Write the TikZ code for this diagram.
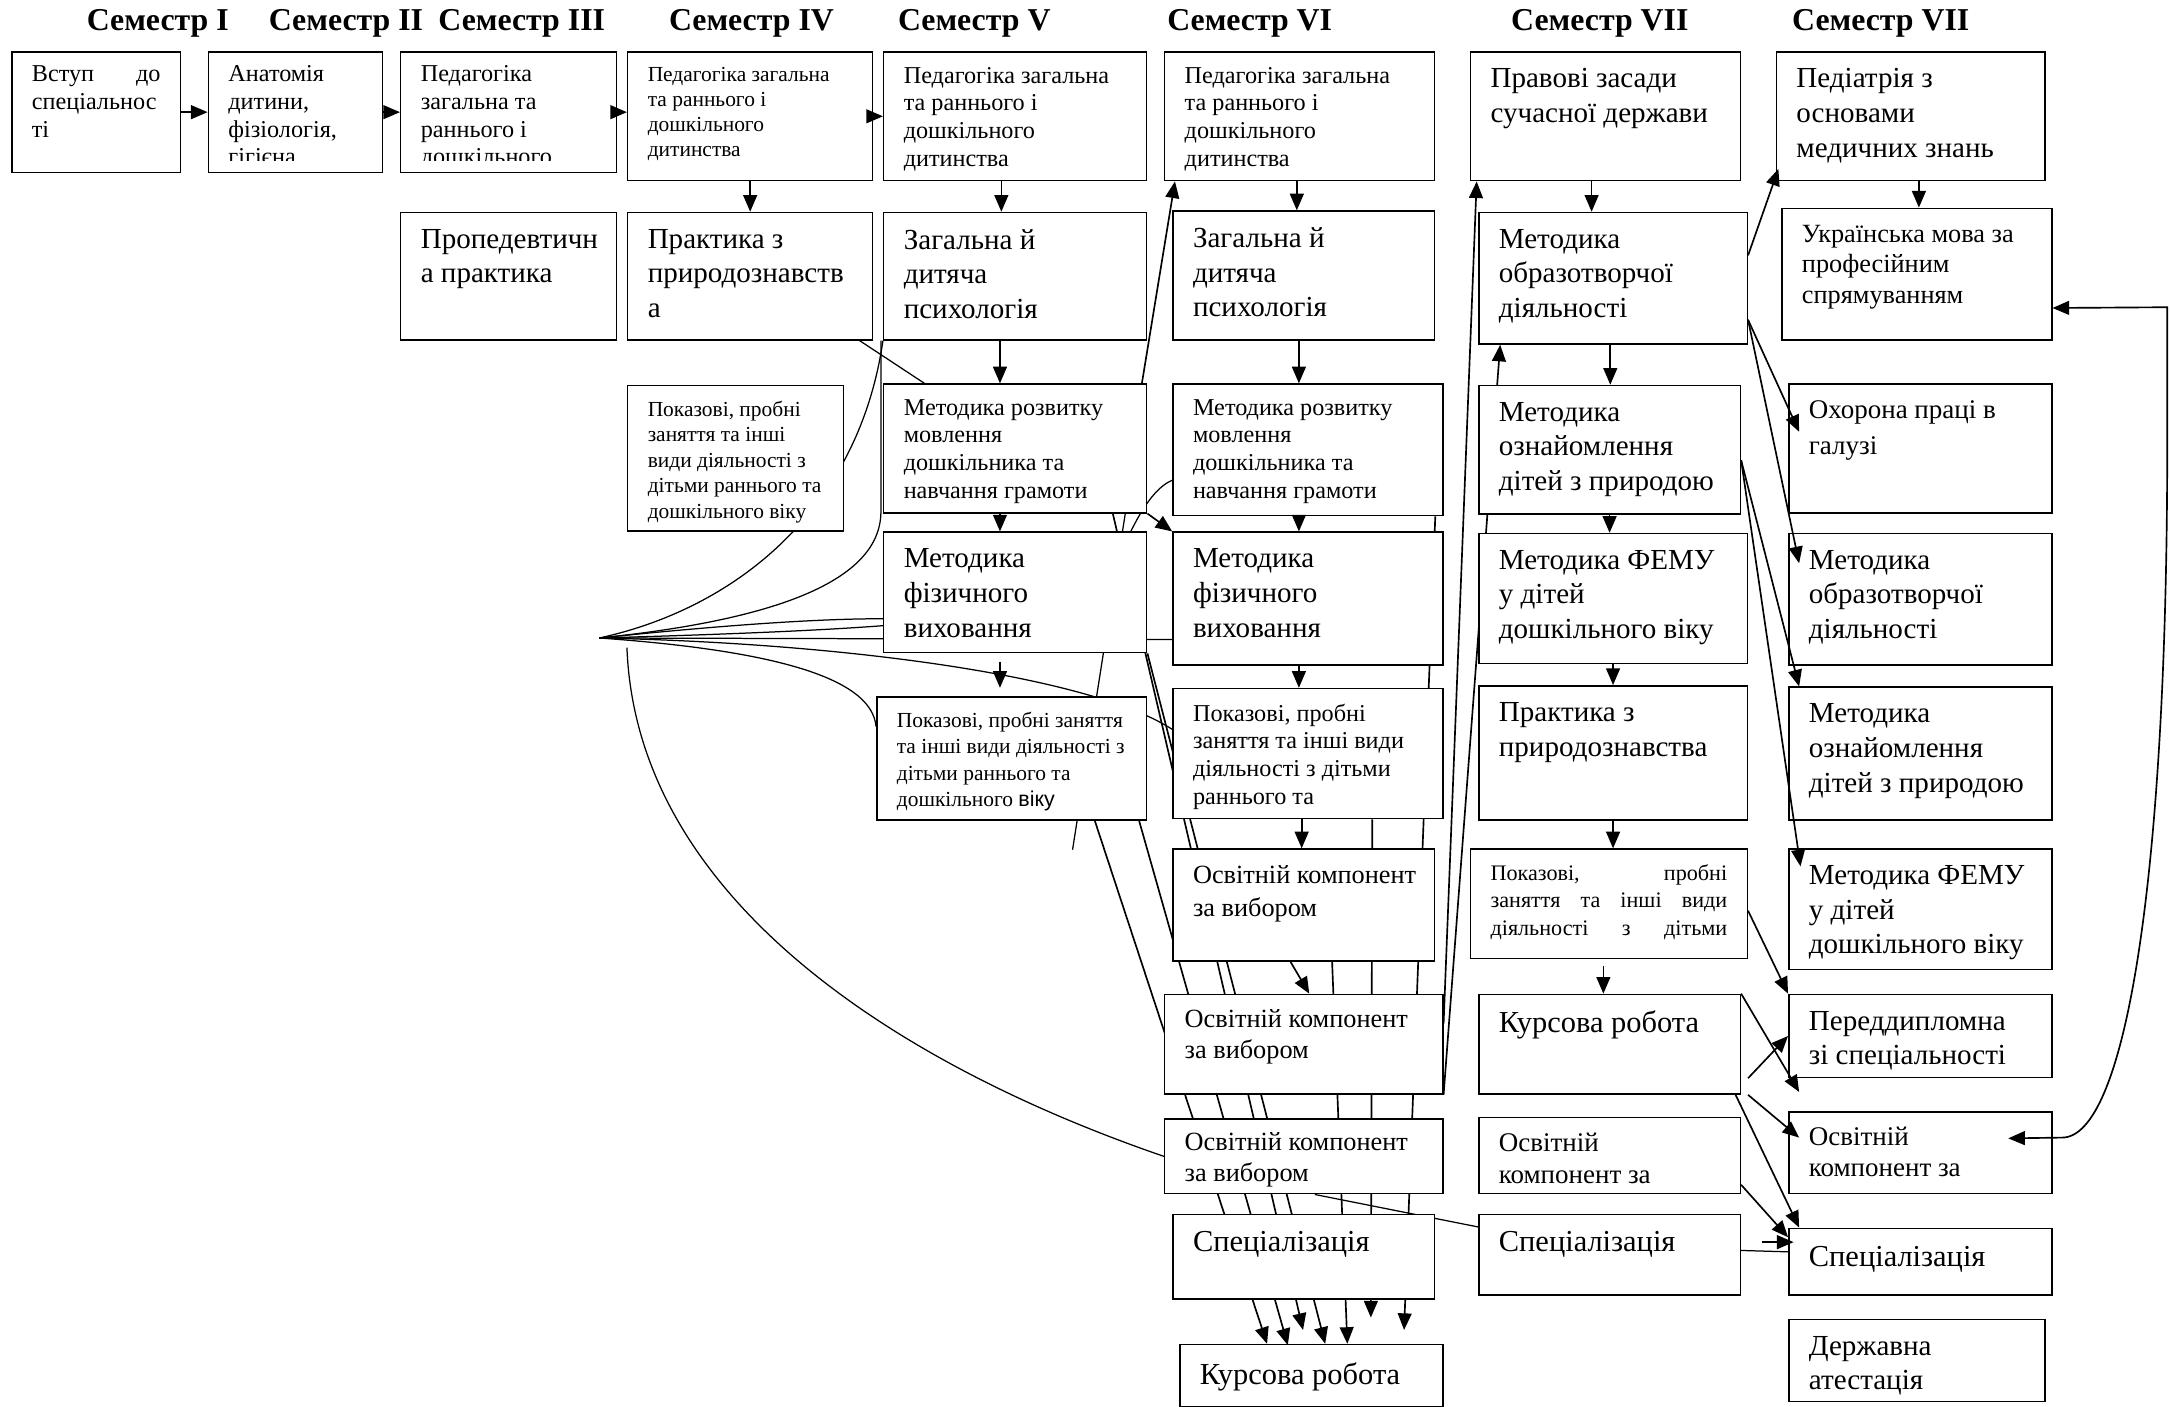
\documentclass[tikz,border=0pt]{standalone}
\usepackage{fontspec}
\setmainfont{Liberation Serif}
\setsansfont{Liberation Sans}
\usetikzlibrary{arrows.meta,calc,backgrounds}

\newcommand\fsz[2]{\fontsize{#1}{#2}\selectfont}
% box: [top gap], name, x, y, width, height, font, lines
\newcommand\course[8][12]{\node[box,minimum width=#5pt,minimum height=#6pt,font=#7] (#2) at (#3,#4)
  {\parbox[t][\dimexpr#6pt-#1pt-#1pt\relax][t]{\dimexpr#5pt-29pt\relax}{\makebox[0pt][l]{\parbox[t]{600pt}{\raggedright #8}}}};}

\tikzset{
  box/.style={draw,fill=white,line width=1.1pt,inner sep=0pt,anchor=north west},
  sem/.style={font=\bfseries\fsz{23}{26}},
  arr/.style={line width=1.2pt,-{Triangle[length=12pt,width=10pt]}},
  link/.style={line width=0.9pt},
}

\begin{document}
\begin{tikzpicture}[x=1pt,y=-1pt]
\useasboundingbox (0,0) rectangle (1568,1016);

\node[sem] (s1) at (114,17) {Семестр I};
\node[sem] (s2) at (250,17) {Семестр II};
\node[sem] (s3) at (377,17) {Семестр III};
\node[sem] (s4) at (543,17) {Семестр IV};
\node[sem] (s5) at (704,17) {Семестр V};
\node[sem] (s6) at (903,17) {Семестр VI};
\node[sem] (s7) at (1156,17) {Семестр VII};
\node[sem] (s8) at (1359,17) {Семестр VII};

% semesters I - IV
\course[10]{vstup}{8}{37}{122}{87}{\fsz{17.5}{20}}{\makebox[93pt][s]{Вступ до}\\спеціальнос\\ті}
\course[10]{anat}{150}{37}{126}{87}{\fsz{17.5}{20}}{Анатомія\\дитини,\\фізіологія,\\гігієна}
\course[10]{pedIII}{289}{37}{156}{87}{\fsz{17.5}{20}}{Педагогіка\\загальна та\\раннього і\\дошкільного}
\course{prop}{289}{153}{156}{92}{\fsz{21}{25}}{Пропедевтичн\\а практика}
\course[11]{pedIV}{453}{37}{177}{93}{\fsz{15.5}{18}}{Педагогіка загальна\\та раннього і\\дошкільного\\дитинства}
\course{praktIV}{453}{153}{177}{92}{\fsz{21}{25}}{Практика з\\природознавств\\а}
\course[11]{pokIV}{453}{278}{156}{105}{\fsz{15.5}{18.5}}{Показові, пробні\\заняття та інші\\види діяльності з\\дітьми раннього та\\дошкільного віку}

% semester V
\course[11]{pedV}{638}{37}{190}{93}{\fsz{17.5}{20}}{Педагогіка загальна\\та раннього і\\дошкільного\\дитинства}
\course{zahV}{638}{153}{190}{92}{\fsz{21}{25}}{Загальна й\\дитяча\\психологія}
\course[11]{mrV}{638}{277}{190}{93}{\fsz{17.5}{20}}{Методика розвитку\\мовлення\\дошкільника та\\навчання грамоти}
\course{mfV}{638}{384}{190}{87}{\fsz{21}{25}}{Методика\\фізичного\\виховання}
\course[11]{pokV}{633}{503}{195}{89}{\fsz{15.5}{19}}{Показові, пробні заняття\\та інші види діяльності з\\дітьми раннього та\\дошкільного {\sffamily віку}}

% semester VI
\course[11]{pedVI}{841}{37}{195}{93}{\fsz{17.5}{20}}{Педагогіка загальна\\та раннього і\\дошкільного\\дитинства}
\course{zahVI}{847}{152}{189}{93}{\fsz{21}{25}}{Загальна й\\дитяча\\психологія}
\course[11]{mrVI}{847}{277}{195}{95}{\fsz{17.5}{20}}{Методика розвитку\\мовлення\\дошкільника та\\навчання грамоти}
\course{mfVI}{847}{384}{195}{96}{\fsz{21}{25}}{Методика\\фізичного\\виховання}
\course[11]{pokVI}{847}{497}{195}{94}{\fsz{17.5}{20}}{Показові, пробні\\заняття та інші види\\діяльності з дітьми\\раннього та}
\course{osv1}{847}{613}{189}{81}{\fsz{19}{24}}{Освітній компонент\\за вибором}
\course[11]{osv2}{841}{718}{201}{72}{\fsz{19}{22}}{Освітній компонент\\за вибором}
\course[10]{osv3}{841}{808}{201}{54}{\fsz{19}{22}}{Освітній компонент\\за вибором}
\course{specVI}{847}{877}{189}{61}{\fsz{22}{25}}{Спеціалізація}
\course[13]{kursVI}{852}{971}{190}{45}{\fsz{22}{25}}{Курсова робота}

% semester VII
\course{prav}{1062}{37}{195}{93}{\fsz{21}{25}}{Правові засади\\сучасної держави}
\course{moVII}{1068}{153}{194}{95}{\fsz{21}{25}}{Методика\\образотворчої\\діяльності}
\course{mozVII}{1068}{278}{189}{93}{\fsz{21}{25}}{Методика\\ознайомлення\\дітей з природою}
\course{femVII}{1068}{385}{194}{94}{\fsz{21}{25}}{Методика ФЕМУ\\у дітей\\дошкільного віку}
\course{praktVII}{1068}{495}{194}{97}{\fsz{21}{25}}{Практика з\\природознавства}
\course[11]{pokVII}{1062}{613}{200}{79}{\fsz{16}{20}}{\makebox[171pt][s]{Показові, пробні}\\\makebox[171pt][s]{заняття та інші види}\\\makebox[171pt][s]{діяльності з дітьми}}
\course{kursVII}{1068}{718}{189}{72}{\fsz{22}{25}}{Курсова робота}
\course[11]{osvVII}{1068}{807}{189}{55}{\fsz{19.5}{23}}{Освітній\\компонент за}
\course{specVII}{1068}{877}{189}{58}{\fsz{22}{25}}{Спеціалізація}

% last column
\course{ped8}{1283}{37}{194}{93}{\fsz{21}{25}}{Педіатрія з\\основами\\медичних знань}
\course{ukr}{1287}{150}{195}{95}{\fsz{19}{22}}{Українська мова за\\професійним\\спрямуванням}
\course{okh}{1292}{277}{190}{93}{\fsz{19.5}{26}}{Охорона праці в\\галузі}
\course{mo8}{1292}{385}{190}{95}{\fsz{21}{25}}{Методика\\образотворчої\\діяльності}
\course{moz8}{1292}{496}{190}{96}{\fsz{21}{25}}{Методика\\ознайомлення\\дітей з природою}
\course{fem8}{1292}{613}{190}{87}{\fsz{21}{25}}{Методика ФЕМУ\\у дітей\\дошкільного віку}
\course{pered}{1292}{718}{190}{60}{\fsz{21}{25}}{Переддипломна\\зі спеціальності}
\course[11]{osv8}{1292}{803}{190}{59}{\fsz{19.5}{22}}{Освітній\\компонент за}
\course[13]{spec8}{1292}{887}{190}{48}{\fsz{22}{25}}{Спеціалізація}
\course{derzh}{1292}{953}{185}{59}{\fsz{21}{25}}{Державна\\атестація}

% cut-off last lines
\fill[white] ($(anat.south west)+(0.8,-8.5)$) rectangle ($(anat.south east)+(-0.8,-0.7)$);
\fill[white] ($(pedIII.south west)+(0.8,-8.5)$) rectangle ($(pedIII.south east)+(-0.8,-0.7)$);

\coordinate (fan) at (433,461);
\coordinate (arcbeg) at (453,468);
\coordinate (b1end) at (775,614);
\coordinate (rr) at (1566,222);

% lines running behind the boxes
\begin{pgfonlayer}{background}
\draw[line width=2pt] (fan) -- ++(22,0);
\draw[link] (fan) .. controls (530,440) and (620,370) .. (zahV.south west);
\draw[link] (fan) .. controls (560,448) and (635,420) .. ($(mrV.south west)+(-1.5,0)$) -- ($(zahV.south west)+(-1.5,0)$);
\draw[link] (fan) .. controls (520,452) and (590,447) .. ($(mfV.south west)+(0,-25)$);
\draw[link] (fan) .. controls (540,458) and (600,455) .. ($(mfV.south west)+(0,-20)$);
\draw[link] (fan) -- ($(mfVI.south west)+(0,-19)$);
\draw[link] (fan) .. controls (620,465) and (790,490) .. ($(pokVI.north west)+(0,30)$);
\draw[link] (fan) .. controls (560,470) and (630,490) .. ($(pokV.north west)+(0,22)$);
\draw[link] (arcbeg) .. controls (460,650) and (650,770) .. (osv3.west);
\draw[link] ($(praktIV.south east)+(-10,0)$) -- ($(mrV.north west)+(30,0)$);
\draw[link] ($(mfV.north east)+(-12,0)$) .. controls (825,368) and (835,352) .. ($(mrVI.west)+(0,22)$);
\draw[link] ($(mrV.south east)+(-16,0)$) -- (b1end);
\draw[arr] ($(mrV.north east)+(-4,0)$) -- ($(pedVI.south west)+(8,0)$);
\draw[arr] ($(pokV.south east)+(-38,0)$) -- ($(kursVI.north)+(-32,0)$);
\draw[arr] ($(pokV.south east)+(-6,0)$) -- ($(kursVI.north)+(-17,1)$);
\draw[arr] ($(mrV.south east)+(-25,0)$) -- ($(kursVI.north)+(-6,-10)$);
\draw[arr] (mfV.south east) -- ($(kursVI.north)+(10,0)$);
\draw[arr] ($(osv1.south)+(20.5,0)$) -- ($(kursVI.north)+(26,0)$);
\draw[arr] ($(pokVI.south)+(46.5,0)$) -- ($(kursVI.north)+(43,-19)$);
\draw[arr] ($(mrVI.south east)+(-6,0)$) -- ($(kursVI.north)+(67,-10)$);
\draw[arr] ($(osv2.east)+(0,-15)$) -- ($(prav.south west)+(5,0)$);
\draw[arr] (osv2.south east) -- ($(moVII.south west)+(16,0)$);
\draw[link] ($(osv3.south)+(8,0)$) -- ($(specVII.west)+(0,-20)$);
\end{pgfonlayer}

% first row
\draw[arr] (vstup) -- (anat);
\draw[arr] (anat) -- (pedIII);
\draw[arr] (pedIII.east) -- (pedIII.east -| pedIV.west);
\draw[arr] (pedIV.east) -- (pedIV.east -| pedV.west);

\draw[arr] (pedIV) -- (praktIV);
\draw[arr] ($(pedV.south)+(-10,0)$) -- ($(pedV.south |- zahV.north)+(-10,0)$);
\draw[arr] ($(zahV.south)+(-11,0)$) -- ($(zahV.south |- mrV.north)+(-11,0)$);
\draw[arr] ($(mrV.south)+(-11,0)$) -- ($(mrV.south |- mfV.north)+(-11,0)$);
\draw[arr] ($(mfV.south)+(-11,6)$) -- ($(mfV.south |- pokV.north)+(-11,-6)$);
\draw[arr] (mrV.south east) -- (mfVI.north west);

\draw[arr] ($(pedVI.south)+(-2,0)$) -- ($(pedVI.south |- zahVI.north)+(-2,0)$);
\draw[arr] ($(zahVI.south)+(-3.5,0)$) -- ($(zahVI.south |- mrVI.north)+(-3.5,0)$);
\draw[arr] ($(mrVI.south)+(-6.5,0)$) -- ($(mrVI.south |- mfVI.north)+(-6.5,0)$);
\draw[arr] ($(mfVI.south)+(-6.5,0)$) -- ($(mfVI.south |- pokVI.north)+(-6.5,0)$);
\draw[arr] ($(pokVI.south)+(-4.5,0)$) -- ($(pokVI.south |- osv1.north)+(-4.5,0)$);
\draw[arr] ($(osv1.south)+(-9.5,0)$) -- ($(osv2.north)+(4,0)$);

\draw[arr] ($(prav.south)+(-10,0)$) -- ($(prav.south |- moVII.north)+(-10,0)$);
\draw[arr] ($(moVII.south)+(-2,0)$) -- ($(moVII.south |- mozVII.north)+(-2,0)$);
\draw[arr] (mozVII.south) -- (mozVII.south |- femVII.north);
\draw[arr] (femVII.south) -- (femVII.south |- praktVII.north);
\draw[arr] (praktVII.south) -- (praktVII.south |- pokVII.north);
\draw[arr] ($(pokVII.south)+(-4,5)$) -- ($(pokVII.south |- kursVII.north)+(-4,0)$);

% into the last column
\draw[arr] ($(moVII.east)+(0,-16.5)$) -- ($(ped8.south west)+(2,-9)$);
\draw[arr] ($(moVII.east)+(0,30)$) -- ($(okh.north west)+(8,35)$);
\draw[arr] ($(moVII.east)+(0,30)$) -- ($(mo8.north west)+(8,22)$);
\draw[arr] ($(mozVII.east)+(0,7.5)$) -- ($(moz8.north west)+(8,0)$);
\draw[arr] ($(mozVII.east)+(0,7.5)$) -- ($(fem8.north west)+(9,13)$);
\draw[arr] ($(pokVII.east)+(0,5)$) -- (pered.north west);
\draw[arr] (kursVII.north east) -- ($(osv8.north west)+(8,-14)$);
\draw[arr] ($(kursVII.south east)+(5,-12)$) -- (pered.west);
\draw[arr] ($(kursVII.south east)+(5,0)$) -- ($(osv8.north west)+(8,19)$);
\draw[arr] ($(kursVII.south east)+(-4,0)$) -- ($(spec8.north west)+(8,0)$);
\draw[arr] ($(osvVII.south east)+(0,-7)$) -- ($(spec8.north west)+(0,7)$);
\draw[link] ($(specVII.east)+(0,-3)$) -- ($(spec8.west)+(0,-7)$);
\draw[arr] ($(specVII.east)+(15,-9)$) -- ($(spec8.west)+(4,-14)$);
\draw[arr] ($(ped8.south)+(6,0)$) -- ($(ped8.south |- ukr.north)+(6,0)$);
\draw[line width=1.2pt,{Triangle[length=12pt,width=10pt]}-{Triangle[length=12pt,width=10pt]}]
  ($(ukr.east)+(0,24.5)$) -- (rr) -- ++(0,98) .. controls +(0,320) and (1535,822) .. (1490,822)
  -- ($(osv8.east)+(-32,-10.5)$);
\end{tikzpicture}
\end{document}
